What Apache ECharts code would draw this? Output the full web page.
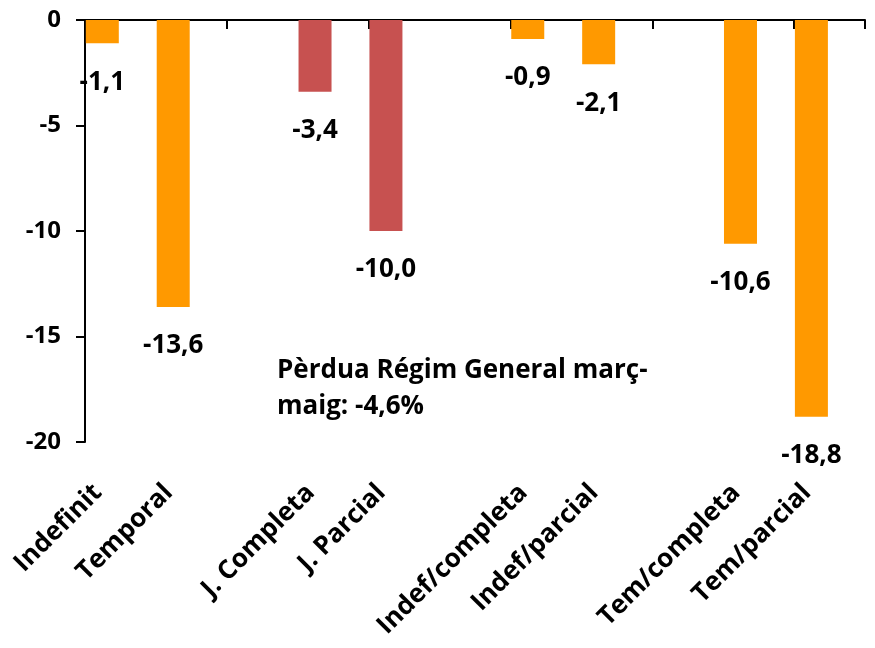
<!DOCTYPE html>
<html>
<head>
<meta charset="utf-8">
<script src="https://cdn.jsdelivr.net/npm/echarts@6/dist/echarts.min.js"></script>
<style>
html,body{margin:0;padding:0;background:#fff;}
#chart{width:875px;height:648px;}
</style>
</head>
<body>
<div id="chart"></div>
<script>
const categories = ['Indefinit','Temporal','','J. Completa','J. Parcial','','Indef/completa','Indef/parcial','','Tem/completa','Tem/parcial'];
const contractValues = [-1.1, -13.6, null, null, null, null, -0.9, -2.1, null, -10.6, -18.8];
const scheduleValues = [null, null, null, -3.4, -10.0, null, null, null, null, null, null];
const yTicks = {min: -20, max: 0, interval: 5};
const noteText = 'Pèrdua Régim General març-\nmaig: -4,6%';

const FONT = '"Open Sans", "DejaVu Sans", sans-serif';
const fmt = p => (p.value == null ? '' : p.value.toFixed(1).replace('.', ','));
const labelCfg = {
  show: true, position: 'bottom', distance: 26,
  formatter: fmt, color: '#000', fontFamily: FONT, fontWeight: 'bold', fontSize: 26
};

const chart = echarts.init(document.getElementById('chart'), null, {renderer: 'canvas'});
chart.setOption({
  animation: false,
  backgroundColor: '#fff',
  grid: {left: 85, right: 10, top: 20, bottom: 206, containLabel: false},
  xAxis: [
    {
      type: 'category', data: categories, position: 'top',
      axisLine: {show: true, onZero: false, lineStyle: {color: '#000', width: 2}},
      axisTick: {show: true, inside: true, length: 9, lineStyle: {color: '#000', width: 2}},
      axisLabel: {show: false},
      splitLine: {show: false}
    },
    {
      type: 'category', data: categories, position: 'bottom',
      axisLine: {show: false}, axisTick: {show: false},
      axisLabel: {show: true, interval: 0, rotate: 45, margin: 24, padding: [0, 32, 0, 0],
        color: '#000', fontFamily: FONT, fontWeight: 'bold', fontSize: 26},
      splitLine: {show: false}
    }
  ],
  yAxis: {
    type: 'value', min: yTicks.min, max: yTicks.max, interval: yTicks.interval,
    axisLine: {show: true, lineStyle: {color: '#000', width: 2}},
    axisTick: {show: true, length: 9, lineStyle: {color: '#000', width: 2}},
    axisLabel: {margin: 24, color: '#000', fontFamily: FONT, fontWeight: 'bold', fontSize: 24},
    splitLine: {show: false}
  },
  series: [
    {type: 'bar', name: 'Contracte', stack: 'a', data: contractValues, barWidth: 33,
      itemStyle: {color: '#FF9900'}, label: labelCfg},
    {type: 'bar', name: 'Jornada', stack: 'a', data: scheduleValues, barWidth: 33,
      itemStyle: {color: '#C75150'}, label: labelCfg},
    {type: 'bar', name: 'buit', stack: 'b', data: categories.map(() => null), barWidth: 33, barGap: '10%'}
  ],
  graphic: [{
    type: 'text', left: 277, top: 353,
    style: {text: noteText, fill: '#000', font: 'bold 26px ' + FONT, lineHeight: 36}
  }]
});
</script>
</body>
</html>
